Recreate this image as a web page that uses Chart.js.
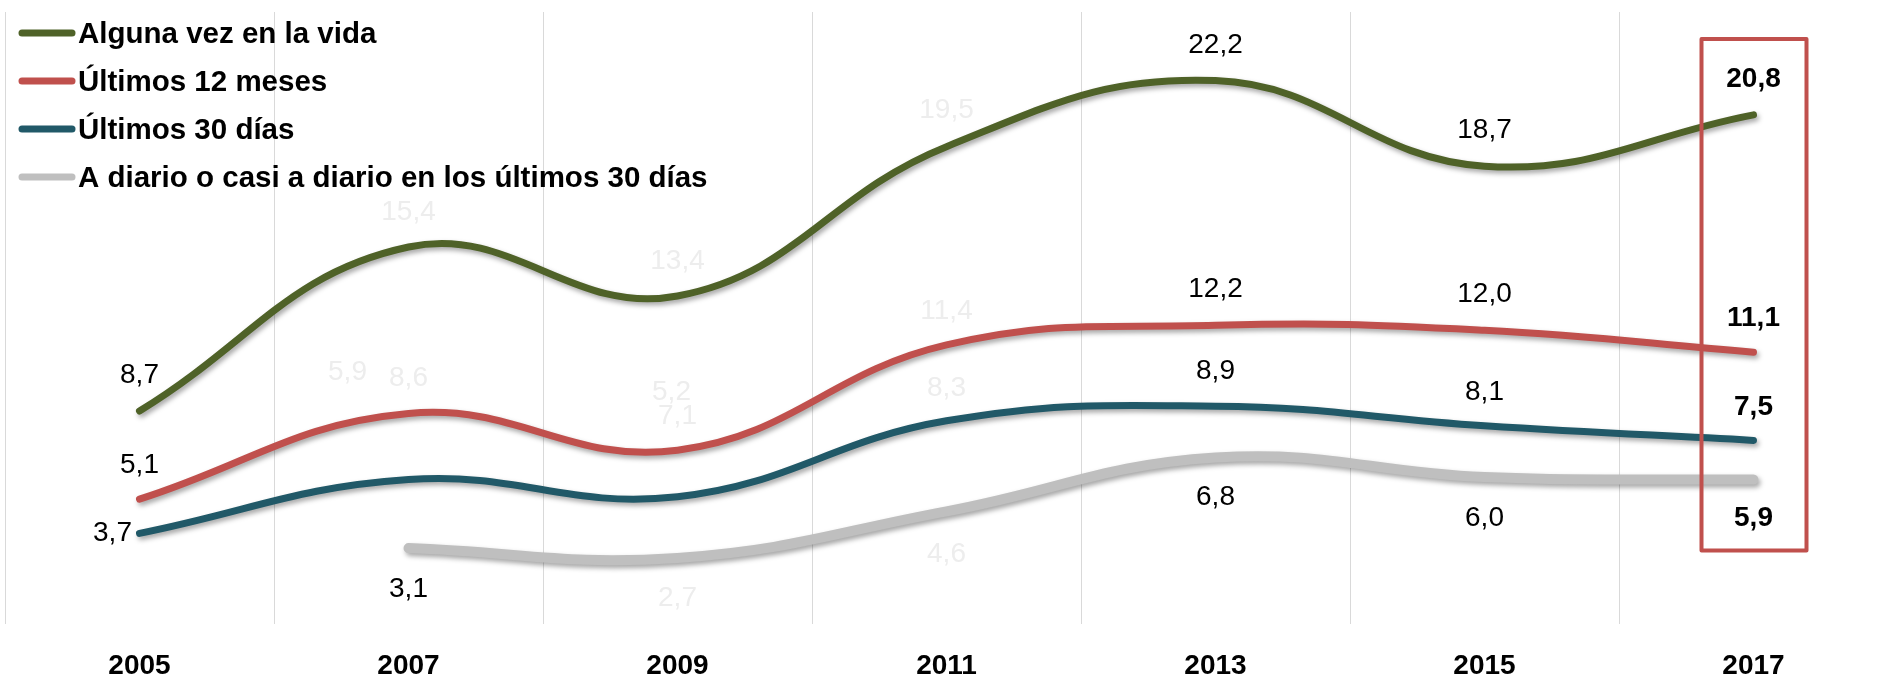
<!DOCTYPE html>
<html>
<head>
<meta charset="utf-8">
<script src="https://cdn.jsdelivr.net/npm/chart.js@4"></script>
<style>
  html, body { margin: 0; padding: 0; background: #ffffff; overflow: hidden; }
  #wrap { width: 1890px; height: 678px; }
  canvas { display: block; }
</style>
</head>
<body>
<div id="wrap"><canvas id="c" width="1890" height="678" style="width:1890px;height:678px"></canvas></div>
<script>
// ---- data ----
const categories = ['2005', '2007', '2009', '2011', '2013', '2015', '2017'];
const seriesNames = ['Alguna vez en la vida', 'Últimos 12 meses', 'Últimos 30 días', 'A diario o casi a diario en los últimos 30 días'];
const algunaVez = [8.7, 15.4, 13.4, 19.5, 22.2, 18.7, 20.8];
const ultimos12Meses = [5.1, 8.6, 7.1, 11.4, 12.2, 12.0, 11.1];
const ultimos30Dias = [3.7, 5.9, 5.2, 8.3, 8.9, 8.1, 7.5];
const aDiario = [null, 3.1, 2.7, 4.6, 6.8, 6.0, 5.9];
const yMin = 0;
const yMax = 25;

// ---- styles ----
const colors = ['#4F6228', '#C0504D', '#215968', '#BFBFBF'];
const widths = [7, 7, 7, 10];
// label tone per point: n = normal black, f = faint, b = bold black
const labelTones = [
  ['n', 'f', 'f', 'f', 'n', 'n', 'b'],
  ['n', 'f', 'f', 'f', 'n', 'n', 'b'],
  ['n', 'f', 'f', 'f', 'n', 'n', 'b'],
  [null, 'n', 'f', 'f', 'n', 'n', 'b']
];
// label offsets (dx, dy) from the point, in px
const labelOffsets = [
  [[0,-36],[0,-35],[0,-35],[0,-36],[0,-35],[0,-36],[0,-36]],
  [[0,-34],[0,-35],[0,-34],[0,-34],[0,-36],[0,-36],[0,-34]],
  [[-27,0],[-61,-107],[-6,-104],[0,-33],[0,-35],[0,-33],[0,-33]],
  [null,[0,41],[0,40],[0,43],[0,40],[0,41],[0,39]]
];

const fmt = v => v.toFixed(1).replace('.', ',');

const shadowPlugin = {
  id: 'lineShadow',
  beforeDatasetDraw(chart) {
    const ctx = chart.ctx;
    ctx.save();
    ctx.shadowColor = 'rgba(0,0,0,0.35)';
    ctx.shadowBlur = 5;
    ctx.shadowOffsetX = 2;
    ctx.shadowOffsetY = 3;
  },
  afterDatasetDraw(chart) {
    chart.ctx.restore();
  }
};

const labelPlugin = {
  id: 'valueLabels',
  afterDatasetsDraw(chart) {
    const ctx = chart.ctx;
    ctx.save();
    ctx.textAlign = 'center';
    ctx.textBaseline = 'middle';
    chart.data.datasets.forEach((ds, di) => {
      const meta = chart.getDatasetMeta(di);
      meta.data.forEach((pt, i) => {
        const v = ds.data[i];
        if (v === null || v === undefined) return;
        const tone = labelTones[di][i];
        const off = labelOffsets[di][i];
        if (!tone || !off) return;
        if (tone === 'b') {
          ctx.font = 'bold 28px "Liberation Sans", Arial, sans-serif';
          ctx.fillStyle = '#000000';
        } else if (tone === 'f') {
          ctx.font = '28px "Liberation Sans", Arial, sans-serif';
          ctx.fillStyle = '#EDEDED';
        } else {
          ctx.font = '28px "Liberation Sans", Arial, sans-serif';
          ctx.fillStyle = '#000000';
        }
        ctx.fillText(fmt(v), pt.x + off[0], pt.y + off[1]);
      });
    });
    ctx.restore();
  }
};

const legendPlugin = {
  id: 'customLegend',
  afterDraw(chart) {
    const ctx = chart.ctx;
    ctx.save();
    chart.data.datasets.forEach((ds, i) => {
      const base = 43 + 48 * i;
      ctx.beginPath();
      ctx.strokeStyle = ds.borderColor;
      ctx.lineWidth = 7;
      ctx.lineCap = 'round';
      ctx.moveTo(22, base - 10);
      ctx.lineTo(72, base - 10);
      ctx.stroke();
      ctx.fillStyle = '#000000';
      ctx.font = 'bold 29.5px "Liberation Sans", Arial, sans-serif';
      ctx.textAlign = 'left';
      ctx.textBaseline = 'alphabetic';
      ctx.fillText(ds.label, 78, base);
    });
    ctx.restore();
  }
};

const highlightPlugin = {
  id: 'highlightBox',
  afterDraw(chart) {
    const xs = chart.scales.x, ys = chart.scales.y;
    const cx = xs.getPixelForValue(categories.length - 1);
    const left = cx - 52, right = cx + 53;
    const top = ys.getPixelForValue(23.9), bottom = ys.getPixelForValue(3.0);
    const ctx = chart.ctx;
    ctx.save();
    ctx.strokeStyle = '#C0504D';
    ctx.lineWidth = 4;
    ctx.lineJoin = 'round';
    ctx.strokeRect(left, top, right - left, bottom - top);
    ctx.restore();
  }
};

const seriesData = [algunaVez, ultimos12Meses, ultimos30Dias, aDiario];

new Chart(document.getElementById('c'), {
  type: 'line',
  data: {
    labels: categories,
    datasets: seriesData.map((d, i) => ({
      label: seriesNames[i],
      data: d,
      borderColor: colors[i],
      backgroundColor: colors[i],
      borderWidth: widths[i],
      borderCapStyle: 'round',
      borderJoinStyle: 'round',
      pointRadius: 0,
      pointHoverRadius: 0,
      tension: 0.42,
      fill: false
    }))
  },
  options: {
    responsive: false,
    animation: false,
    devicePixelRatio: 1,
    layout: { padding: { left: 5, right: 2, top: 12, bottom: 0 } },
    plugins: {
      legend: { display: false },
      tooltip: { enabled: false }
    },
    scales: {
      x: {
        offset: true,
        grid: { display: true, offset: true, color: '#D9D9D9', lineWidth: 1, drawTicks: false },
        border: { display: false },
        afterFit(scale) { scale.height = 54; },
        ticks: {
          color: '#000000',
          padding: 25,
          font: { family: '"Liberation Sans", Arial, sans-serif', size: 28, weight: 'bold' }
        }
      },
      y: {
        display: false,
        min: yMin,
        max: yMax
      }
    }
  },
  plugins: [shadowPlugin, labelPlugin, legendPlugin, highlightPlugin]
});
</script>
</body>
</html>
